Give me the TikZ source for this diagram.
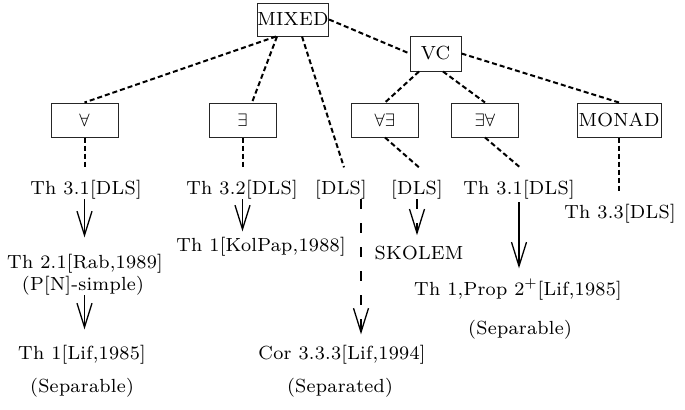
\documentclass[tikz,border=0pt]{standalone}
\usepackage{fontspec}
\setmainfont{lmroman8-regular.otf}[LetterSpace=1.5]
\usetikzlibrary{arrows.meta,calc}
\begin{document}
\begin{tikzpicture}[x=0.5pt,y=-0.5pt,font=\fontsize{9.5}{11}\selectfont]
\tikzstyle{box}=[draw=black!85,line width=0.5pt,inner sep=0pt,minimum width=33.5pt,minimum height=17pt]
\tikzstyle{lbl}=[inner sep=0pt,anchor=base]
\tikzstyle{link}=[line width=1pt,dash pattern=on 2.5pt off 1.5pt]
\tikzstyle{impl}=[line width=0.65pt,-{Straight Barb[length=12pt,width=7.5pt]}]
\tikzstyle{dimpl}=[impl,dash pattern=on 5pt off 7pt]
\useasboundingbox (0,0) rectangle (685,409);
% classes
\node[box,minimum width=34pt,minimum height=16.5pt] (mixed) at (293,19.5) {MIXED};
\node[box,minimum width=25.5pt,minimum height=17.5pt] (vc) at (435.5,53.5) {VC};
\node[box] (all) at (84.5,120) {$\forall$};
\node[box] (ex) at (242.5,120) {$\exists$};
\node[box] (allex) at (385,120) {$\forall\exists$};
\node[box] (exall) at (485,120) {$\exists\forall$};
\node[box,minimum width=42pt] (monad) at (619,120) {MONAD};
% results
\node[lbl] (th31) at (86,194) {Th 3.1[DLS]};
\node[lbl] (th32) at (242,194) {Th 3.2[DLS]};
\node[lbl] (dlsC) at (341,194) {[DLS]};
\node[lbl] (dlsB) at (417,194) {[DLS]};
\node[lbl] (th31b) at (519,194) {Th 3.1[DLS]};
\node[lbl] (th33) at (620,218) {Th 3.3[DLS]};
\node[lbl] (kolpap) at (261,251) {Th 1[KolPap,1988]};
\node[lbl] (skolem) at (419,259) {SKOLEM};
\node[lbl] (rab) at (85,268) {Th 2.1[Rab,1989]};
\node[lbl] (pn) at (83,290) {(P[N]-simple)};
\node[lbl] (prop) at (518,295) {Th 1,Prop 2$^+$[Lif,1985]};
\node[lbl] (sep2) at (520,334) {(Separable)};
\node[lbl] (lif85) at (82,359) {Th 1[Lif,1985]};
\node[lbl] (cor) at (342,359) {Cor 3.3.3[Lif,1994]};
\node[lbl] (sep1) at (82,392) {(Separable)};
\node[lbl] (sep3) at (340,392) {(Separated)};
\coordinate (dlsC') at ($(dlsC.south)+(20,0)$);

\draw[link] ($(mixed.south)+(-17,0)$) -- (all.north);
\draw[link] ($(mixed.south)+(-16,0)$) -- ($(ex.north)+(9.5,0)$);
\draw[link] ($(mixed.south)+(9,0)$) -- ($(dlsC.north)+(3,-12)$);
\draw[link] (mixed.east) -- (vc.west);
\draw[link] ($(vc.south)+(-16.5,0)$) -- (allex.north);
\draw[link] ($(vc.south)+(7.5,0)$) -- (exall.north);
\draw[link] (vc.east) -- (monad.north);
\draw[link] (all.south) -- ($(all.south |- th31.north)+(0,-12)$);
\draw[link] (ex.south) -- ($(ex.south |- th32.north)+(0,-12)$);
\draw[link] (allex.south) -- ($(dlsB.north)+(2,-12)$);
\draw[link] (exall.south) -- ($(th31b.north)+(1,-12)$);
\draw[link] (monad.south) -- ($(monad.south |- th33.north)+(0,-10)$);

\draw[impl,shorten >=8pt] (all.south |- th31.south) -- (all.south |- rab.north);
\draw[impl,shorten >=7.5pt] (all.south |- pn.south) -- (all.south |- lif85.north);
\draw[impl,shorten >=2.5pt] (ex.south |- th32.south) -- (ex.south |- kolpap.north);
\draw[dimpl,shorten >=5pt] (dlsC') -- (dlsC' |- cor.north);
\draw[dimpl,shorten >=5pt] (dlsB.south) -- (dlsB.south |- skolem.north);
\draw[impl,shorten <=1.5pt,shorten >=5pt] (th31b.south) -- (th31b.south |- prop.north);
\end{tikzpicture}
\end{document}
